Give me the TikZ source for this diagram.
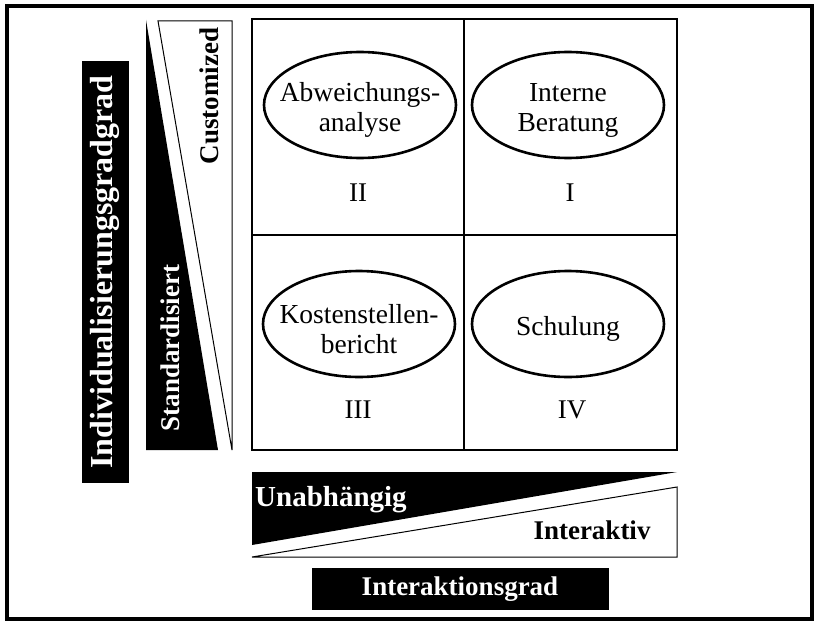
\documentclass[tikz,border=0pt]{standalone}
\usepackage{fontspec}
\setmainfont{Liberation Serif}

\begin{document}
\begin{tikzpicture}[x=1pt,y=-1pt,
    feld/.style={inner sep=0pt,align=center,
      font=\fontsize{27.5}{30}\selectfont},
    rand/.style={line width=2.6pt},
    nummer/.style={font=\fontsize{27}{30}\selectfont},
    balken/.style={fill=black,text=white,inner sep=0pt,
      font=\bfseries\fontsize{27}{30}\selectfont},
    achse/.style={inner sep=0pt,font=\bfseries\fontsize{27}{30}\selectfont}]

  \useasboundingbox (0,0) rectangle (816,626);
  \draw[line width=3.5pt] (7,6) rectangle (812,619);

  % Matrix
  \draw[line width=1.2pt] (252,19) rectangle (677,450);
  \draw[line width=1.2pt] (464,19) -- (464,450);
  \draw[line width=1.2pt] (252,235) -- (677,235);

  \node[feld] (abw) at (360,110) {Abweichungs-\\analyse};
  \node[feld] (intern) at (568,110) {Interne\\Beratung};
  \node[feld] (kost) at (359,329) {Kostenstellen-\\bericht};
  \node[feld] (schul) at (568,329) {Schulung};
  \foreach \n in {abw,intern,kost,schul}
    \draw[rand] ([yshift=5pt]\n.center) ellipse [x radius=96pt, y radius=53pt];

  \node[nummer] (q2) at (358,193) {II};
  \node[nummer] (q1) at (570,193) {I};
  \node[nummer] (q3) at (358,410) {III};
  \node[nummer] (q4) at (572,410) {IV};

  % Individualisierung
  \node[balken,rotate=90,minimum width=421pt,minimum height=47pt,
    font=\bfseries\fontsize{32}{34}\selectfont] (indiv) at (105,272)
    {Individualisierungsgradgrad};
  \fill (146,20) -- (218,450) -- (146,450) -- cycle;
  \draw[line width=1pt] (158,21) -- (232,21) -- (232,450) -- cycle;
  \node[achse,rotate=90] (cust) at (209,96) {Customized};
  \node[achse,rotate=90,text=white] (stand) at (170,348) {Standardisiert};

  % Interaktion
  \fill (252,472) -- (677,472) -- (252,545) -- cycle;
  \draw[line width=1pt] (252,557) -- (677,557) -- (677,487) -- cycle;
  \node[achse,text=white,font=\bfseries\fontsize{29}{30}\selectfont]
    (unab) at (331,500) {Unabhängig};
  \node[achse] (inter) at (592,530) {Interaktiv};
  \node[balken,minimum width=297pt,minimum height=42pt] (grad) at (460,589)
    {Interaktionsgrad};

\end{tikzpicture}
\end{document}
